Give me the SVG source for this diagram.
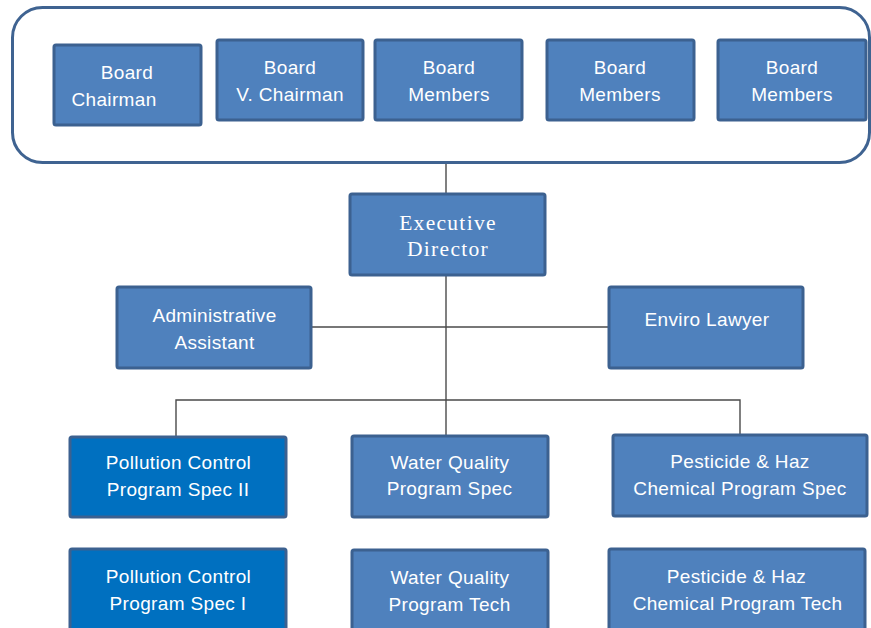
<svg xmlns="http://www.w3.org/2000/svg" width="871" height="628" viewBox="0 0 871 628">
<style>
.box{fill:#4F81BD;stroke:#3C6190;stroke-width:3}
.dark{fill:#0070C0;stroke:#3C6190;stroke-width:3}
.t{font-family:"Liberation Sans",Arial,sans-serif;font-size:19px;fill:#ffffff;text-anchor:middle;letter-spacing:0.35px}
.s{font-family:"Liberation Serif","Times New Roman",serif;font-size:21.5px;fill:#ffffff;text-anchor:middle;letter-spacing:1.3px}
.c{fill:none;stroke:#4a4a4a;stroke-width:1.4}
</style>
<rect width="871" height="628" fill="#ffffff"/>
<g id="connectors">
<line class="c" x1="446" y1="162" x2="446" y2="194"/>
<line class="c" x1="446" y1="276" x2="446" y2="435"/>
<line class="c" x1="312" y1="327" x2="609" y2="327"/>
<polyline class="c" points="176,436 176,400 740,400 740,434"/>
</g>
<g id="board">
<rect x="12.5" y="7.5" width="857" height="155" rx="30" fill="#ffffff" stroke="#3F6391" stroke-width="3"/>
</g>
<g id="board-chairman">
<rect class="box" x="54" y="45" width="147" height="80" rx="2"/>
<text class="t" x="127" y="79">Board</text>
<text class="t" x="114" y="106">Chairman</text>
</g>
<g id="board-vchairman">
<rect class="box" x="217" y="40" width="146" height="80" rx="2"/>
<text class="t" x="290" y="74">Board</text>
<text class="t" x="290" y="101">V. Chairman</text>
</g>
<g id="board-members-1">
<rect class="box" x="375" y="40" width="147" height="80" rx="2"/>
<text class="t" x="449" y="74">Board</text>
<text class="t" x="449" y="101">Members</text>
</g>
<g id="board-members-2">
<rect class="box" x="547" y="40" width="147" height="80" rx="2"/>
<text class="t" x="620" y="74">Board</text>
<text class="t" x="620" y="101">Members</text>
</g>
<g id="board-members-3">
<rect class="box" x="718" y="40" width="148" height="80" rx="2"/>
<text class="t" x="792" y="74">Board</text>
<text class="t" x="792" y="101">Members</text>
</g>
<g id="executive-director">
<rect class="box" x="350" y="194" width="195" height="81" rx="2"/>
<text class="s" x="448" y="229.5">Executive</text>
<text class="s" x="448" y="256">Director</text>
</g>
<g id="administrative-assistant">
<rect class="box" x="117" y="287" width="194" height="81" rx="2"/>
<text class="t" x="214.5" y="321.5">Administrative</text>
<text class="t" x="214.5" y="348.5">Assistant</text>
</g>
<g id="enviro-lawyer">
<rect class="box" x="609" y="287" width="194" height="81" rx="2"/>
<text class="t" x="707" y="325.5">Enviro Lawyer</text>
</g>
<g id="pollution-control-2">
<rect class="dark" x="70" y="437" width="216" height="80" rx="2"/>
<text class="t" x="178.5" y="468.5">Pollution Control</text>
<text class="t" x="178" y="495.5">Program Spec II</text>
</g>
<g id="water-quality-spec">
<rect class="box" x="352" y="436" width="196" height="81" rx="2"/>
<text class="t" x="450" y="468.5">Water Quality</text>
<text class="t" x="449.5" y="495">Program Spec</text>
</g>
<g id="pesticide-spec">
<rect class="box" x="613" y="435" width="254" height="81" rx="2"/>
<text class="t" x="740" y="467.5">Pesticide &amp; Haz</text>
<text class="t" x="740" y="495">Chemical Program Spec</text>
</g>
<g id="pollution-control-1">
<rect class="dark" x="70" y="549" width="216" height="84" rx="2"/>
<text class="t" x="178.5" y="582.5">Pollution Control</text>
<text class="t" x="178" y="609.5">Program Spec I</text>
</g>
<g id="water-quality-tech">
<rect class="box" x="352" y="550" width="196" height="84" rx="2"/>
<text class="t" x="450" y="583.5">Water Quality</text>
<text class="t" x="449.5" y="610.5">Program Tech</text>
</g>
<g id="pesticide-tech">
<rect class="box" x="609" y="549" width="256" height="84" rx="2"/>
<text class="t" x="736.5" y="582.5">Pesticide &amp; Haz</text>
<text class="t" x="737.5" y="609.5">Chemical Program Tech</text>
</g>
</svg>
